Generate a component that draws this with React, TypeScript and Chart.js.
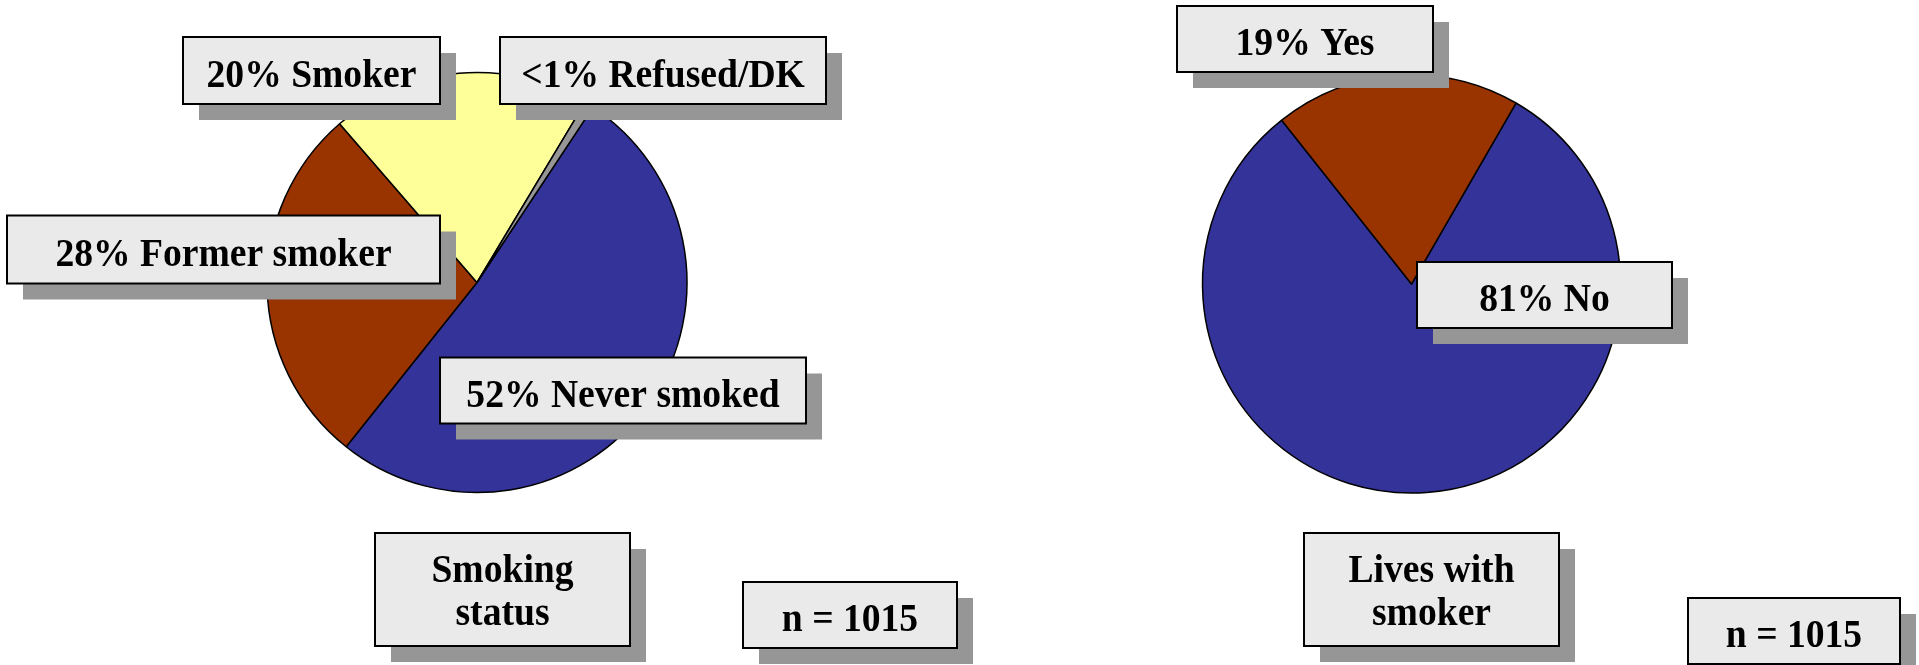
import React, { useEffect, useRef } from "react";
import { Chart, registerables } from "chart.js";

Chart.register(...registerables);

// ---- Data ----
const smokingCategories = ["Never smoked", "Former smoker", "Smoker", "Refused/DK"];
const smokingValues = [51.5, 28, 20, 0.7];
const smokingColors = ["#333399", "#993300", "#FFFF99", "#969696"];
const smokingCallouts = ["52% Never smoked", "28% Former smoker", "20% Smoker", "<1% Refused/DK"];
const smokingTitle = ["Smoking", "status"];

const livesCategories = ["No", "Yes"];
const livesValues = [81, 19];
const livesColors = ["#333399", "#993300"];
const livesCallouts = ["81% No", "19% Yes"];
const livesTitle = ["Lives with", "smoker"];

const sampleSize = "n = 1015";

// ---- Layout (pixels) ----
const W = 1919;
const H = 665;
const FONT = 'bold 40px "Liberation Serif", "Times New Roman", serif';
const SHADOW = 16;

type Box = { x: number; y: number; w: number; h: number };

const leftPie = { cx: 477, cy: 282.5, r: 210, rotation: 33.5 };
const rightPie = { cx: 1411.5, cy: 284, r: 209, rotation: 30 };

const leftCalloutBoxes: Box[] = [
  { x: 440, y: 357.5, w: 366, h: 66 },
  { x: 7, y: 215.5, w: 433, h: 68 },
  { x: 183, y: 37, w: 257, h: 67 },
  { x: 500, y: 37, w: 326, h: 67 },
];
const leftTitleBox: Box = { x: 375, y: 533, w: 255, h: 113 };
const leftNBox: Box = { x: 743, y: 582, w: 214, h: 66 };

const rightCalloutBoxes: Box[] = [
  { x: 1417, y: 262, w: 255, h: 66 },
  { x: 1177, y: 6, w: 256, h: 66 },
];
const rightTitleBox: Box = { x: 1304, y: 533, w: 255, h: 113 };
const rightNBox: Box = { x: 1688, y: 598, w: 212, h: 66 };

function drawBox(ctx: CanvasRenderingContext2D, b: Box, lines: string[]) {
  ctx.save();
  ctx.fillStyle = "#969696";
  ctx.fillRect(b.x + SHADOW, b.y + SHADOW, b.w, b.h);
  ctx.fillStyle = "#EAEAEA";
  ctx.fillRect(b.x, b.y, b.w, b.h);
  ctx.strokeStyle = "#000";
  ctx.lineWidth = 2;
  ctx.strokeRect(b.x, b.y, b.w, b.h);
  ctx.fillStyle = "#000";
  ctx.font = FONT;
  ctx.textAlign = "center";
  ctx.textBaseline = "alphabetic";
  const cx = b.x + b.w / 2;
  const cy = b.y + b.h / 2;
  const lh = 43;
  lines.forEach((line, i) => {
    const base = cy + 16 - ((lines.length - 1) * lh) / 2 + i * lh - (lines.length > 1 ? 2.5 : 0);
    ctx.save();
    ctx.translate(cx, base);
    ctx.scale(0.94, 1);
    ctx.fillText(line, 0, 0);
    ctx.restore();
  });
  ctx.restore();
}

function makeCalloutPlugin(boxes: Box[], texts: string[], titleBox: Box, title: string[], nBox: Box) {
  return {
    id: "callouts",
    afterDraw(chart: Chart) {
      const ctx = chart.ctx;
      drawBox(ctx, titleBox, title);
      drawBox(ctx, nBox, [sampleSize]);
      boxes.forEach((b, i) => drawBox(ctx, b, [texts[i]]));
    },
  };
}

function makeConfig(
  pie: { cx: number; cy: number; r: number; rotation: number },
  labels: string[],
  values: number[],
  colors: string[],
  plugin: any
): any {
  return {
    type: "pie",
    data: {
      labels,
      datasets: [
        {
          data: values,
          backgroundColor: colors,
          borderColor: "#000000",
          borderWidth: 1.5,
        },
      ],
    },
    options: {
      responsive: false,
      animation: false,
      devicePixelRatio: 1,
      rotation: pie.rotation,
      radius: pie.r,
      layout: {
        padding: {
          left: pie.cx - pie.r,
          right: W - (pie.cx + pie.r),
          top: pie.cy - pie.r,
          bottom: H - (pie.cy + pie.r),
        },
      },
      plugins: {
        legend: { display: false },
        tooltip: { enabled: false },
        title: { display: false },
      },
    },
    plugins: [plugin],
  };
}

export default function App() {
  const leftRef = useRef<HTMLCanvasElement>(null);
  const rightRef = useRef<HTMLCanvasElement>(null);

  useEffect(() => {
    document.body.style.margin = "0";
    document.body.style.overflow = "hidden";
    const c1 = new Chart(
      leftRef.current!,
      makeConfig(
        leftPie,
        smokingCategories,
        smokingValues,
        smokingColors,
        makeCalloutPlugin(leftCalloutBoxes, smokingCallouts, leftTitleBox, smokingTitle, leftNBox)
      )
    );
    const c2 = new Chart(
      rightRef.current!,
      makeConfig(
        rightPie,
        livesCategories,
        livesValues,
        livesColors,
        makeCalloutPlugin(rightCalloutBoxes, livesCallouts, rightTitleBox, livesTitle, rightNBox)
      )
    );
    return () => {
      c1.destroy();
      c2.destroy();
    };
  }, []);

  const canvasStyle: React.CSSProperties = {
    position: "absolute",
    left: 0,
    top: 0,
    width: W,
    height: H,
  };

  return (
    <div style={{ position: "absolute", left: 0, top: 0, width: W, height: H, background: "#fff", overflow: "hidden" }}>
      <canvas ref={leftRef} width={W} height={H} style={canvasStyle} />
      <canvas ref={rightRef} width={W} height={H} style={canvasStyle} />
    </div>
  );
}
